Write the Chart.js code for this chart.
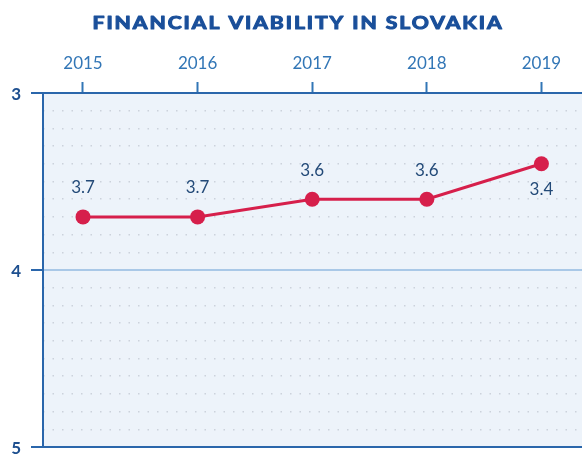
<!DOCTYPE html>
<html>
<head>
<meta charset="utf-8">
<script src="https://cdn.jsdelivr.net/npm/chart.js@4"></script>
<style>
  html, body { margin: 0; padding: 0; background: #fff; }
  #wrap { width: 582px; height: 454px; }
</style>
</head>
<body>
<div id="wrap"><canvas id="viability"></canvas></div>
<script>
const chartTitle = 'FINANCIAL VIABILITY IN SLOVAKIA';
const years = [2015, 2016, 2017, 2018, 2019];
const scores = [3.7, 3.7, 3.6, 3.6, 3.4];
const scoreTicks = [3, 4, 5];

const AXIS_BLUE = '#2a66ab';
const YEAR_BLUE = '#3276b6';
const LINE_RED = '#d61f4b';

// light blue panel behind the plot
const plotBackground = {
    id: 'plotBackground',
    beforeDraw(chart) {
        const { ctx, chartArea: a } = chart;
        ctx.save();
        ctx.fillStyle = '#edf3fa';
        ctx.fillRect(a.left, a.top, a.right - a.left, a.bottom - a.top);
        ctx.restore();
    }
};

// heavy, wide headline: Lato bold stretched out to the banner width
const headline = {
    id: 'headline',
    afterDraw(chart) {
        const ctx = chart.ctx;
        const targetWidth = 411;
        ctx.save();
        ctx.font = 'bold 16.5px Lato, "DejaVu Sans", sans-serif';
        ctx.letterSpacing = '1.5px';
        const w = ctx.measureText(chartTitle).width;
        ctx.translate(298, 23.5);
        ctx.scale(targetWidth / w, 1);
        ctx.fillStyle = '#1a4f9a';
        ctx.strokeStyle = '#1a4f9a';
        ctx.lineWidth = 1;
        ctx.lineJoin = 'round';
        ctx.textAlign = 'center';
        ctx.textBaseline = 'middle';
        ctx.fillText(chartTitle, 0, 0);
        ctx.strokeText(chartTitle, 0, 0);
        ctx.restore();
    }
};

// score written next to each point, last one goes under it
const valueLabels = {
    id: 'valueLabels',
    afterDatasetsDraw(chart) {
        const ctx = chart.ctx;
        const points = chart.getDatasetMeta(0).data;
        ctx.save();
        ctx.font = '17px Lato, "Open Sans", sans-serif';
        ctx.fillStyle = '#234a78';
        ctx.textAlign = 'center';
        ctx.textBaseline = 'middle';
        points.forEach((pt, i) => {
            const below = i === points.length - 1;
            ctx.fillText(scores[i].toFixed(1), pt.x, below ? pt.y + 26 : pt.y - 29);
        });
        ctx.restore();
    }
};

const isWhole = v => Math.abs(v - Math.round(v)) < 1e-6;

new Chart(document.getElementById('viability'), {
    type: 'line',
    data: {
        datasets: [{
            data: years.map((yr, i) => ({ x: yr, y: scores[i] })),
            borderColor: LINE_RED,
            borderWidth: 3,
            backgroundColor: LINE_RED,
            pointRadius: 7.5,
            pointBorderWidth: 0,
            pointBackgroundColor: LINE_RED,
            tension: 0
        }]
    },
    options: {
        responsive: true,
        maintainAspectRatio: false,
        animation: false,
        layout: { autoPadding: false, padding: { top: 40, right: 0, bottom: 7, left: 0 } },
        plugins: {
            legend: { display: false },
            tooltip: { enabled: false },
            title: { display: false }
        },
        scales: {
            x: {
                type: 'linear',
                position: 'top',
                min: 2014.651,
                max: 2019.354,
                afterBuildTicks: scale => { scale.ticks = years.map(v => ({ value: v })); },
                afterFit: scale => {
                    scale.height = 53;
                    scale.paddingLeft = 0;
                    scale.paddingRight = 0;
                },
                ticks: {
                    callback: v => String(v),
                    color: YEAR_BLUE,
                    font: { family: 'Lato, "Open Sans", sans-serif', size: 17 },
                    padding: 8,
                    maxRotation: 0
                },
                grid: {
                    drawOnChartArea: false,
                    tickLength: 11,
                    tickColor: YEAR_BLUE,
                    tickWidth: 2
                },
                border: { color: AXIS_BLUE, width: 2 }
            },
            y: {
                type: 'linear',
                position: 'left',
                reverse: true,
                min: 3,
                max: 5,
                afterBuildTicks: scale => { scale.ticks = scoreTicks.map(v => ({ value: v })); },
                afterFit: scale => {
                    scale.width = 43;
                    scale.paddingTop = 0;
                    scale.paddingBottom = 0;
                },
                ticks: {
                    callback: v => String(v),
                    color: '#1d4f8f',
                    font: { family: 'Lato, "Open Sans", sans-serif', size: 17, weight: 'bold' },
                    padding: 10,
                    labelOffset: 2
                },
                grid: {
                    color: ctx => ctx.tick && ctx.tick.value === 4 ? '#a9c8e7' : AXIS_BLUE,
                    lineWidth: 2,
                    tickLength: 12,
                    tickColor: AXIS_BLUE,
                    tickWidth: 2
                },
                border: { color: AXIS_BLUE, width: 2 }
            },
            // dotted tenth-step rules
            yMinor: {
                type: 'linear',
                position: 'left',
                reverse: true,
                min: 3,
                max: 5,
                afterFit: scale => {
                    scale.width = 0;
                    scale.paddingTop = 0;
                    scale.paddingBottom = 0;
                },
                ticks: { display: false, stepSize: 0.1 },
                grid: {
                    drawTicks: false,
                    lineWidth: 1.5,
                    color: ctx => ctx.tick && isWhole(ctx.tick.value) ? 'rgba(0,0,0,0)' : '#ccd2db'
                },
                border: { display: false, dash: [1.5, 8] }
            }
        }
    },
    plugins: [plotBackground, headline, valueLabels]
});
</script>
</body>
</html>
